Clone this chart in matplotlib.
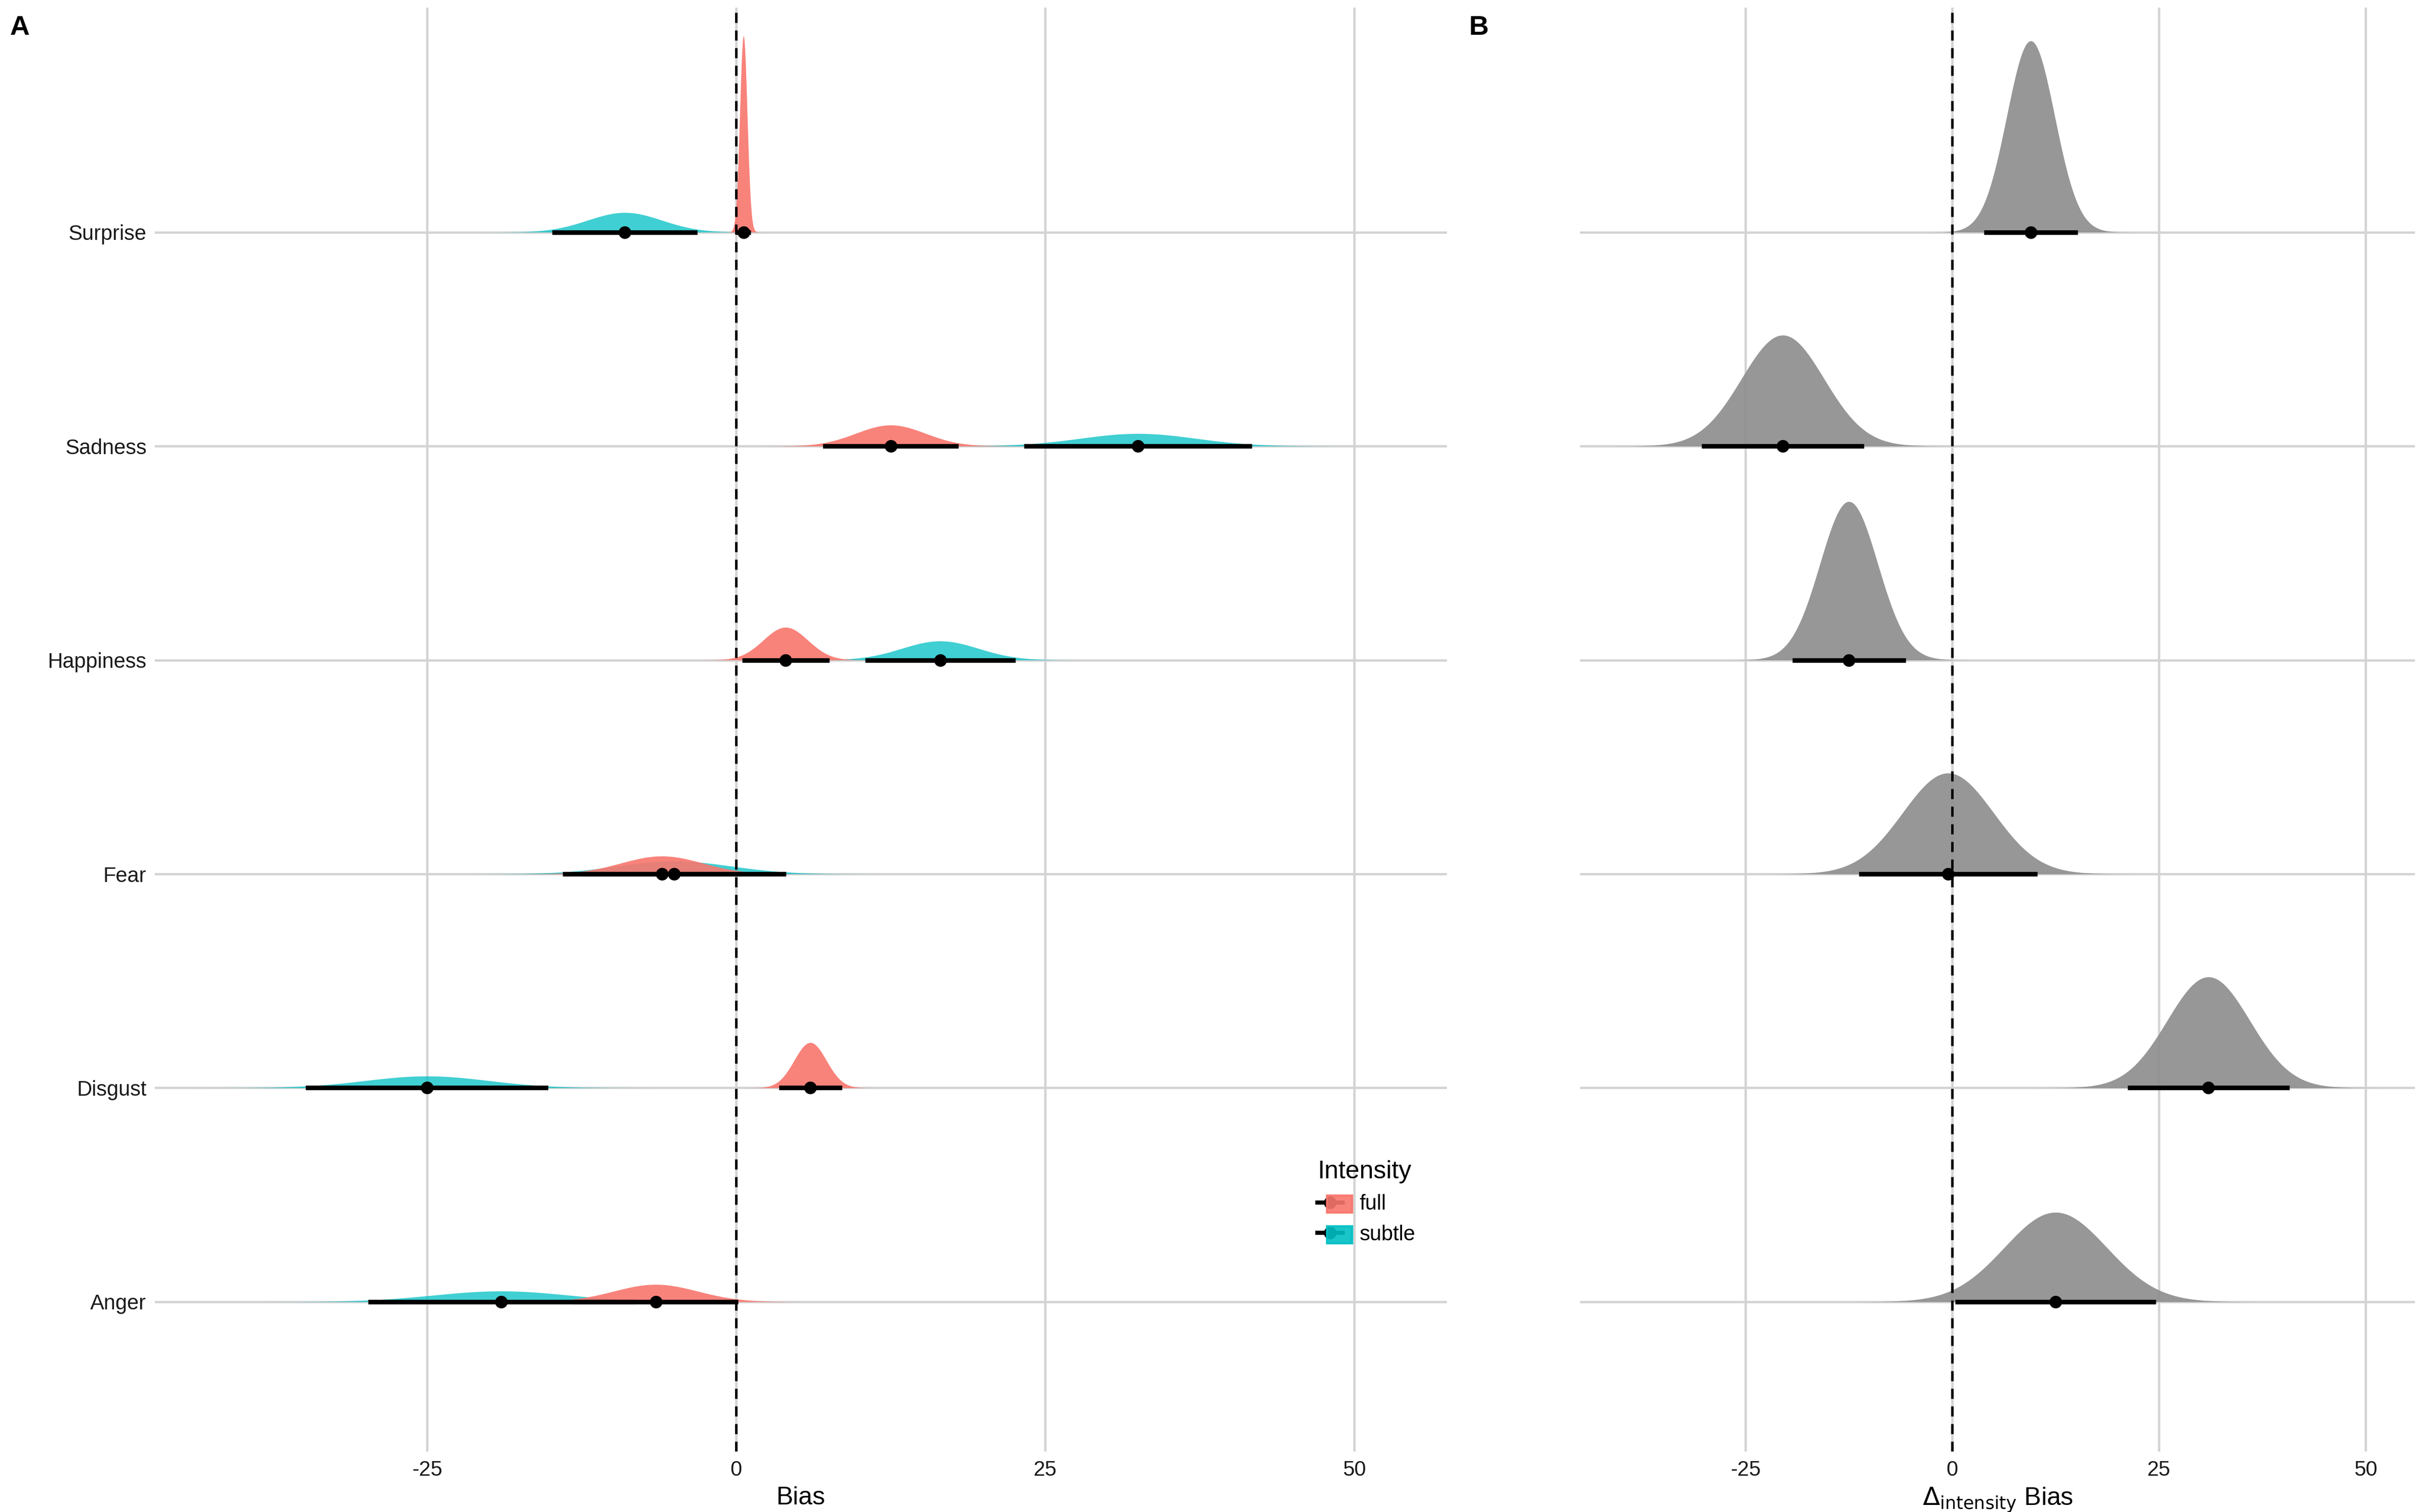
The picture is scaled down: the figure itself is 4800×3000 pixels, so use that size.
import numpy as np
import matplotlib
matplotlib.use("Agg")
import matplotlib.pyplot as plt
from matplotlib.lines import Line2D

plt.rcParams['font.family'] = ['Liberation Sans', 'DejaVu Sans']

emotions = ["Anger", "Disgust", "Fear", "Happiness", "Sadness", "Surprise"]
# posterior summaries (mean, sd)
full_mean = [-6.5, 6.0, -6.0, 4.0, 12.5, 0.6]
full_sd = [3.4, 1.3, 3.3, 1.8, 2.8, 0.3]
subtle_mean = [-19.0, -25.0, -5.0, 16.5, 32.5, -9.0]
subtle_sd = [5.5, 5.0, 4.6, 3.1, 4.7, 3.0]
delta_mean = [12.5, 31.0, -0.5, -12.5, -20.5, 9.5]
delta_sd = [6.2, 5.0, 5.5, 3.5, 5.0, 2.9]

c_full = "#F8766D"
c_subtle = "#00BFC4"
c_delta = "#8C8C8C"

fig = plt.figure(figsize=(16, 10), dpi=300)
axA = fig.add_axes([0.064, 0.04, 0.534, 0.955])
axB = fig.add_axes([0.653, 0.04, 0.345, 0.955])


def halfeye(ax, y, m, s, scale, color, alpha, xr):
    x = np.linspace(m - 4.5 * s, m + 4.5 * s, 400)
    d = np.exp(-0.5 * ((x - m) / s) ** 2) / (s * np.sqrt(2 * np.pi)) * scale
    ax.fill_between(x, y, y + d, color=color, alpha=alpha, lw=0, zorder=2)


def interval(ax, y, m, s):
    ax.plot([m - 1.96 * s, m + 1.96 * s], [y, y], color="black", lw=2.2, zorder=4,
            solid_capstyle="butt")
    ax.plot([m], [y], "o", color="black", ms=5, zorder=5)


for i in range(len(emotions)):
    halfeye(axA, i, subtle_mean[i], subtle_sd[i], 0.69, c_subtle, 0.75, None)
    halfeye(axA, i, full_mean[i], full_sd[i], 0.69, c_full, 0.9, None)
    interval(axA, i, subtle_mean[i], subtle_sd[i])
    interval(axA, i, full_mean[i], full_sd[i])
    halfeye(axB, i, delta_mean[i], delta_sd[i], 6.5, c_delta, 0.9, None)
    interval(axB, i, delta_mean[i], delta_sd[i])

for ax, xl in [(axA, (-47, 57.5)), (axB, (-45, 56))]:
    ax.set_xlim(*xl)
    ax.set_ylim(-0.7, 6.05)
    ax.set_xticks([-25, 0, 25, 50])
    ax.set_xticklabels(["-25", "0", "25", "50"])
    ax.set_yticks(range(len(emotions)))
    ax.grid(True, color="#D3D3D3", lw=1.1, zorder=0)
    ax.set_axisbelow(True)
    ax.axvline(0, color="black", ls=(0, (4, 3)), lw=1.2, zorder=6)
    for s in ax.spines.values():
        s.set_visible(False)
    ax.tick_params(length=0, labelsize=10, colors="#4D4D4D", pad=4)
    for t in ax.get_xticklabels() + ax.get_yticklabels():
        t.set_color("#1A1A1A")

axA.set_yticklabels(emotions)
axB.set_yticklabels([])
axA.set_xlabel("Bias", fontsize=12, labelpad=3)
axB.set_xlabel(r"$\Delta_{\mathrm{intensity}}$ Bias", fontsize=12, labelpad=3)

fig.text(0.004, 0.99, "A", fontsize=13, fontweight="bold", va="top")
fig.text(0.607, 0.99, "B", fontsize=13, fontweight="bold", va="top")

handles = []
for c in [c_full, c_subtle]:
    handles.append(Line2D([], [], color="black", lw=2, marker="o", ms=5))
leg = axA.legend(handles, ["full", "subtle"], title="Intensity", loc="lower right",
                 bbox_to_anchor=(0.99, 0.13), frameon=False, fontsize=10,
                 title_fontsize=12, handlelength=1.2, alignment="left")
# colored background patches under legend keys
for h, c in zip(leg.legend_handles, [c_full, c_subtle]):
    h.set_path_effects([])
from matplotlib.patches import Rectangle
fig.canvas.draw()
for txt, c in zip(leg.get_texts(), [c_full, c_subtle]):
    bb = txt.get_window_extent().transformed(fig.transFigure.inverted())
    fig.patches.append(Rectangle((bb.x0 - 0.0135, bb.y0 + 0.001), 0.0105, bb.height - 0.002,
                                 transform=fig.transFigure, color=c, alpha=0.9, zorder=0.5,
                                 figure=fig))

fig.savefig("out.png", dpi=300, facecolor="white")
